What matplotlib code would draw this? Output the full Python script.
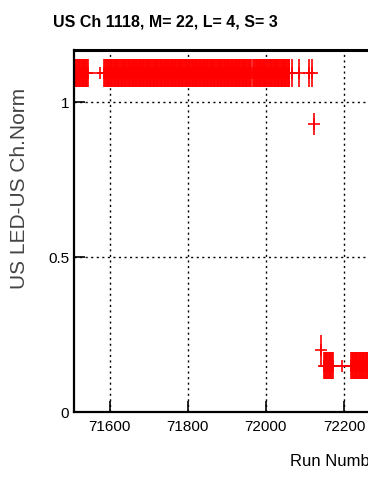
import numpy as np
import matplotlib
matplotlib.use("Agg")
import matplotlib.pyplot as plt

plt.rcParams['font.family'] = ['Liberation Sans Narrow', 'Liberation Sans', 'DejaVu Sans']

high_segments = [(71510, 71545), (71586, 71962), (71968, 72000), (72004, 72060)]
high_level = 1.095
high_err = 0.045

low_segments = [(72149, 72172), (72218, 72300)]
low_level = 0.15
low_err = 0.045

# single runs
extra_runs = [71575, 72067, 72085, 72110, 72118, 72123, 72141, 72195]
extra_vals = [1.095, 1.095, 1.095, 1.095, 1.095, 0.93, 0.20, 0.15]
extra_errs = [0.0, 0.045, 0.045, 0.045, 0.045, 0.035, 0.05, 0.0]
extra_xerr = [9, 0, 0, 0, 0, 0, 0, 16]

xticks = [71600, 71800, 72000, 72200]
yticks = [0, 0.5, 1]
yticklabels = ["0", "0.5", "1"]


def expand(segments, level):
    runs = np.concatenate([np.arange(a, b + 1, 2) for a, b in segments])
    return runs, np.full(len(runs), level)


hx, hy = expand(high_segments, high_level)
lx, ly = expand(low_segments, low_level)

fig = plt.figure(figsize=(3.68, 4.78), dpi=100)
ax = fig.add_axes([74 / 368, 66 / 478, 1.2, 362 / 478])

style = dict(fmt='+', color='red', ms=8, mew=1.2, elinewidth=1.2, capsize=0)
ax.errorbar(hx, hy, yerr=high_err, **style)
ax.errorbar(lx, ly, yerr=low_err, **style)
ax.errorbar(extra_runs, extra_vals, yerr=extra_errs, xerr=extra_xerr, **style)

ax.set_xlim(71508, 72640)
ax.set_ylim(0, 1.168)
ax.set_xticks(xticks)
ax.set_yticks(yticks)
ax.set_yticklabels(yticklabels)
ax.grid(True, color='black', linestyle=(0, (1.5, 2.5)), linewidth=1)
ax.tick_params(direction='in', length=8, width=1.2, labelsize=11, top=False, right=False)
ax.tick_params(axis='x', pad=6)
for s in ax.spines.values():
    s.set_linewidth(1.6)
ax.spines['top'].set_linewidth(2.2)

fig.text(20 / 368, 1 - 188 / 478, "US LED-US Ch.Norm", fontsize=15, color='#444444',
         rotation=90, va='center', ha='center')
fig.text(290 / 368, 1 - 462 / 478, "Run Number", fontsize=12, va='center', ha='left')
fig.text(53 / 368, 1 - 22 / 478, "US Ch 1118, M= 22, L= 4, S= 3", fontsize=11.5,
         fontweight='bold', va='center', ha='left')

fig.savefig("out.png", dpi=100)
